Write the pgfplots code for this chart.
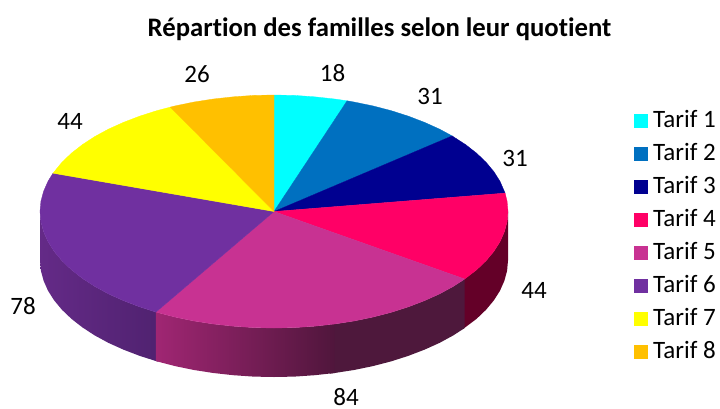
\documentclass[border=0pt]{standalone}
\usepackage{fontspec}
\setmainfont[Ligatures={TeX,NoCommon}]{Carlito}
\usepackage{pgfplots}
\pgfplotsset{compat=1.18}
\definecolor{t1}{RGB}{0,255,255}
\definecolor{t2}{RGB}{0,112,192}
\definecolor{t3}{RGB}{0,0,144}
\definecolor{t4}{RGB}{255,0,102}
\definecolor{t5}{RGB}{200,50,146}
\definecolor{t6}{RGB}{112,48,160}
\definecolor{t7}{RGB}{255,255,0}
\definecolor{t8}{RGB}{255,192,0}
\definecolor{w4}{RGB}{100,0,40}
\definecolor{w5a}{RGB}{160,38,115}
\definecolor{w5b}{RGB}{80,22,60}
\definecolor{w5c}{RGB}{78,24,60}
\definecolor{w6a}{RGB}{100,42,135}
\definecolor{w6b}{RGB}{80,34,112}
\begin{document}
\begin{tikzpicture}
\useasboundingbox (0,0) rectangle (720pt,408pt);
\begin{axis}[
  scale only axis, width=720pt, height=408pt,
  xmin=0, xmax=720, ymin=0, ymax=408, y dir=reverse,
  axis lines=none, clip=false,
  legend cell align=left,
  legend style={at={(axis cs:634,110.5)}, anchor=north west, draw=none, fill=none,
    font=\fontsize{25}{25}\selectfont, row sep=11pt, inner sep=0pt,
    nodes={inner sep=0pt, text height=17pt, text depth=5pt}},
  legend image code/.code={\fill[#1,draw=none] (0pt,-6pt) rectangle (14pt,8pt);\path[draw=none,fill=none] (0pt,0pt) -- (19pt,0pt);},
]
% side walls
\addplot[forget plot, draw=none, fill=w4] coordinates {
 (508,211.5)(507.1,221.7)(504.4,231.7)(500,241.7)(493.9,251.3)(486.1,260.7)(476.6,269.8)(463,280)
 (463,329)(476.6,318.8)(486.1,309.7)(493.9,300.3)(500,290.7)(504.4,280.7)(507.1,270.7)(508,260.5)} -- cycle;
\addplot[forget plot, draw=none, left color=w6a, right color=w6b] coordinates {
 (158,312.7)(139.8,306.9)(123.6,300.7)(108.5,293.9)(94.7,286.4)(82.3,278.3)(71.4,269.8)(61.9,260.7)(54.1,251.3)(48,241.7)(43.6,231.7)(40.9,221.7)(40,211.5)
 (40,260.5)(40.9,270.7)(43.6,280.7)(48,290.7)(54.1,300.3)(61.9,309.7)(71.4,318.8)(82.3,327.3)(94.7,335.4)(108.5,342.9)(123.6,349.7)(139.8,355.9)(158,361.7)} -- cycle;
\addplot[forget plot, draw=none, fill=w5c] coordinates {
 (464.7,279)(453.3,286.4)(439.5,293.9)(424.4,300.7)(408.2,306.9)(391,312.4)(372.9,317.1)(354,321)(334.6,324)(330,324.6)
 (330,373.6)(334.6,373)(354,370)(372.9,366.1)(391,361.4)(408.2,355.9)(424.4,349.7)(439.5,342.9)(453.3,335.4)(464.7,328)} -- cycle;
\addplot[forget plot, draw=none, left color=w5a, right color=w5b] coordinates {
 (334.6,324)(314.6,326.2)(294.4,327.6)(274,328)(253.6,327.6)(233.4,326.2)(213.4,324)(194,321)(175.1,317.1)(155.9,312.1)
 (155.9,361.1)(175.1,366.1)(194,370)(213.4,373)(233.4,375.2)(253.6,376.6)(274,377)(294.4,376.6)(314.6,375.2)(334.6,373)} -- cycle;
% top face
\addplot[fill=t1, draw=t1, line width=0.3pt] coordinates {
 (274,211.5)(274,95)(294.4,95.4)(314.6,96.8)(334.6,99)(347.1,100.8)} -- cycle;
\addlegendentry{Tarif 1}
\addplot[fill=t2, draw=t2, line width=0.3pt] coordinates {
 (274,211.5)(347.1,100.8)(354,102)(372.9,105.9)(391,110.6)(408.2,116.1)(424.4,122.3)(439.5,129.1)(452.1,135.9)} -- cycle;
\addlegendentry{Tarif 2}
\addplot[fill=t3, draw=t3, line width=0.3pt] coordinates {
 (274,211.5)(452.1,135.9)(465.7,144.7)(476.6,153.2)(486.1,162.3)(493.9,171.7)(500,181.3)(505.1,193.1)} -- cycle;
\addlegendentry{Tarif 3}
\addplot[fill=t4, draw=t4, line width=0.3pt] coordinates {
 (274,211.5)(505.1,193.1)(507.1,201.3)(508,211.5)(507.1,221.7)(504.4,231.7)(500,241.7)(493.9,251.3)(486.1,260.7)(476.6,269.8)(464.7,279)} -- cycle;
\addlegendentry{Tarif 4}
\addplot[fill=t5, draw=t5, line width=0.3pt] coordinates {
 (274,211.5)(464.7,279)(453.3,286.4)(439.5,293.9)(424.4,300.7)(408.2,306.9)(391,312.4)(372.9,317.1)(354,321)(334.6,324)(314.6,326.2)(294.4,327.6)(274,328)(253.6,327.6)(233.4,326.2)(213.4,324)(194,321)(175.1,317.1)(155.9,312.1)} -- cycle;
\addlegendentry{Tarif 5}
\addplot[fill=t6, draw=t6, line width=0.3pt] coordinates {
 (274,211.5)(155.9,312.1)(139.8,306.9)(123.6,300.7)(108.5,293.9)(94.7,286.4)(82.3,278.3)(71.4,269.8)(61.9,260.7)(54.1,251.3)(48,241.7)(43.6,231.7)(40.9,221.7)(40,211.5)(40.9,201.3)(43.6,191.3)(48,181.3)(53,173.2)} -- cycle;
\addlegendentry{Tarif 6}
\addplot[fill=t7, draw=t7, line width=0.3pt] coordinates {
 (274,211.5)(53,173.2)(61.9,162.3)(71.4,153.2)(82.3,144.7)(94.7,136.6)(108.5,129.1)(123.6,122.3)(139.8,116.1)(157,110.6)(170.3,107.1)} -- cycle;
\addlegendentry{Tarif 7}
\addplot[fill=t8, draw=t8, line width=0.3pt] coordinates {
 (274,211.5)(170.3,107.1)(175.1,105.9)(194,102)(213.4,99)(233.4,96.8)(253.6,95.4)(274,95)} -- cycle;
\addlegendentry{Tarif 8}
% value labels
\node[font=\fontsize{25}{25}\selectfont] at (axis cs:332.5,73) {18};
\node[font=\fontsize{25}{25}\selectfont] at (axis cs:430,96) {31};
\node[font=\fontsize{25}{25}\selectfont] at (axis cs:515,158) {31};
\node[font=\fontsize{25}{25}\selectfont] at (axis cs:534,290) {44};
\node[font=\fontsize{25}{25}\selectfont] at (axis cs:346,397) {84};
\node[font=\fontsize{25}{25}\selectfont] at (axis cs:23,306) {78};
\node[font=\fontsize{25}{25}\selectfont] at (axis cs:70,121) {44};
\node[font=\fontsize{25}{25}\selectfont] at (axis cs:197,74) {26};
\node[font=\fontsize{26.7}{26.7}\selectfont\bfseries] at (axis cs:379.5,29) {Répart\kern0ption des familles selon leur quot\kern0ptient};
\end{axis}
\end{tikzpicture}
\end{document}
